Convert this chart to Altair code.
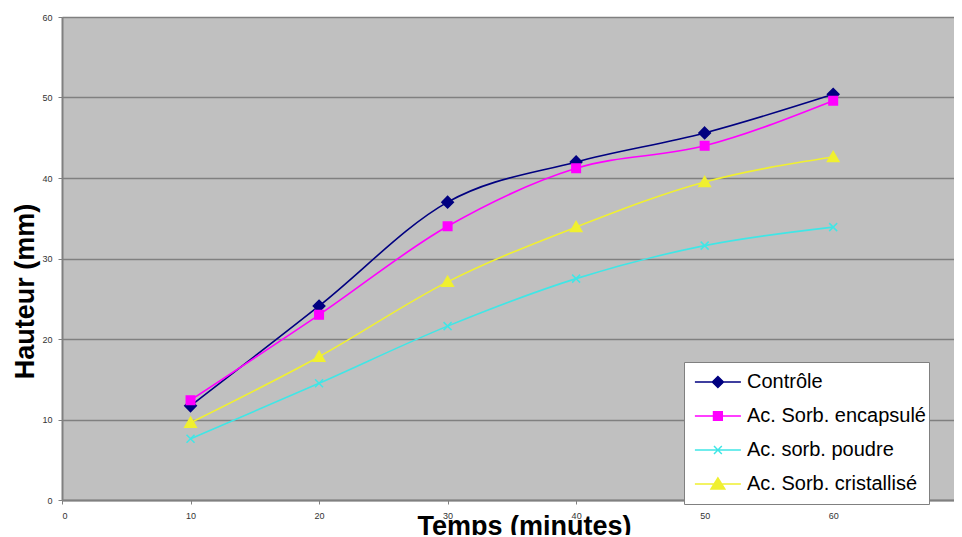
import altair as alt
import pandas as pd

temps = [10, 20, 30, 40, 50, 60]
series = ["Contrôle", "Ac. Sorb. encapsulé", "Ac. sorb. poudre", "Ac. Sorb. cristallisé"]
controle = [11.7, 24.1, 37.0, 42.0, 45.6, 50.4]
encapsule = [12.4, 23.0, 34.0, 41.2, 44.0, 49.6]
poudre = [7.6, 14.5, 21.6, 27.5, 31.6, 33.9]
cristallise = [9.6, 17.8, 27.1, 33.9, 39.5, 42.6]
colors = ["#000080", "#ff00ff", "#40e6e6", "#f0f030"]
x_ticks = [0, 10, 20, 30, 40, 50, 60, 70]
y_ticks = [0, 10, 20, 30, 40, 50, 60]

rows = []
for name, vals in zip(series, [controle, encapsule, poudre, cristallise]):
    for t, v in zip(temps, vals):
        rows.append({"temps": t, "hauteur": v, "serie": name})
df = pd.DataFrame(rows)

# marker paths for the plot (size=100 -> 5 px per unit)
pt_paths = [
    "M0,-1.15L1.15,0L0,1.15L-1.15,0Z",
    "M-0.85,-0.85H0.85V0.85H-0.85Z",
    "M-0.8,-0.8L0.8,0.8M-0.8,0.8L0.8,-0.8",
    "M0,-1.1L1.15,0.9L-1.15,0.9Z",
]
# legend symbols: line + marker (size=2116 -> 23 px per unit)
lg_paths = [
    "M-0.7,0H1.3M0.3,-0.24L0.54,0L0.3,0.24L0.06,0Z",
    "M-0.7,0H1.3M0.11,-0.19H0.49V0.19H0.11Z",
    "M-0.7,0H1.3M0.13,-0.17L0.47,0.17M0.13,0.17L0.47,-0.17",
    "M-0.7,0H1.3M0.3,-0.26L0.6,0.22L0,0.22Z",
]

xenc = alt.X("temps:Q", title="Temps (minutes)",
             scale=alt.Scale(domain=[0, 69.4], nice=False, zero=False),
             axis=alt.Axis(values=x_ticks, grid=False, titleX=462, titleY=34,
                           titleAnchor="middle", titleAlign="center",
                           titleBaseline="alphabetic"))
yenc = alt.Y("hauteur:Q", title="Hauteur (mm)",
             scale=alt.Scale(domain=[0, 60], nice=False),
             axis=alt.Axis(values=y_ticks, grid=True, titleX=-29, titleY=274,
                           titleAngle=-90, titleAlign="center", titleBaseline="alphabetic"))

color_scale = alt.Scale(domain=series, range=colors)
leg = alt.Legend(title=None, orient="none", legendX=622, legendY=345)

lines = alt.Chart(df).mark_line(interpolate="monotone", strokeWidth=1.6).encode(
    x=xenc, y=yenc,
    stroke=alt.Stroke("serie:N", scale=color_scale, legend=leg),
    detail="serie:N",
)

shape_cond = [{"test": f"datum.serie === '{s}'", "value": p} for s, p in zip(series[:3], pt_paths[:3])]
points = alt.Chart(df).mark_point(filled=True, size=100, strokeWidth=1.5, opacity=1).encode(
    x=xenc, y=yenc,
    fill=alt.Fill("serie:N", scale=color_scale, legend=leg),
    stroke=alt.Stroke("serie:N", scale=color_scale, legend=leg),
    shape=alt.ShapeValue(value=pt_paths[3], condition=shape_cond),
)

legend_layer = alt.Chart(df).transform_filter("false").mark_point(filled=True).encode(
    x=xenc, y=yenc,
    fill=alt.Fill("serie:N", scale=color_scale, legend=leg),
    stroke=alt.Stroke("serie:N", scale=color_scale, legend=leg),
    shape=alt.Shape("serie:N", scale=alt.Scale(domain=series, range=lg_paths), legend=leg),
)

chart = alt.layer(lines, points, legend_layer).properties(
    width=892, height=483,
    autosize=alt.AutoSizeParams(type="none"),
    padding={"left": 54, "top": 9, "right": 0, "bottom": 35},
).configure_view(
    fill="#c0c0c0", stroke=None,
).configure_axis(
    domainColor="#808080", domainWidth=2,
    gridColor="#808080", gridWidth=1.5,
    tickColor="#808080", tickSize=4,
    labelFont="Liberation Sans", labelFontSize=9, labelColor="#333333",
    titleFont="Liberation Sans", titleFontSize=27, titleFontWeight="bold", titleColor="#000000",
).configure_axisX(
    labelPadding=7,
).configure_axisY(
    labelPadding=6,
).configure_legend(
    fillColor="#ffffff", strokeColor="#808080", strokeWidth=1,
    padding=3, rowPadding=0, clipHeight=34,
    symbolSize=2116, symbolStrokeWidth=1.5,
    labelFont="Liberation Sans", labelFontSize=20, labelColor="#000000",
    labelOffset=12, labelLimit=400, cornerRadius=0,
)

chart.save("out.html", embed_options={"renderer": "svg", "actions": False})
